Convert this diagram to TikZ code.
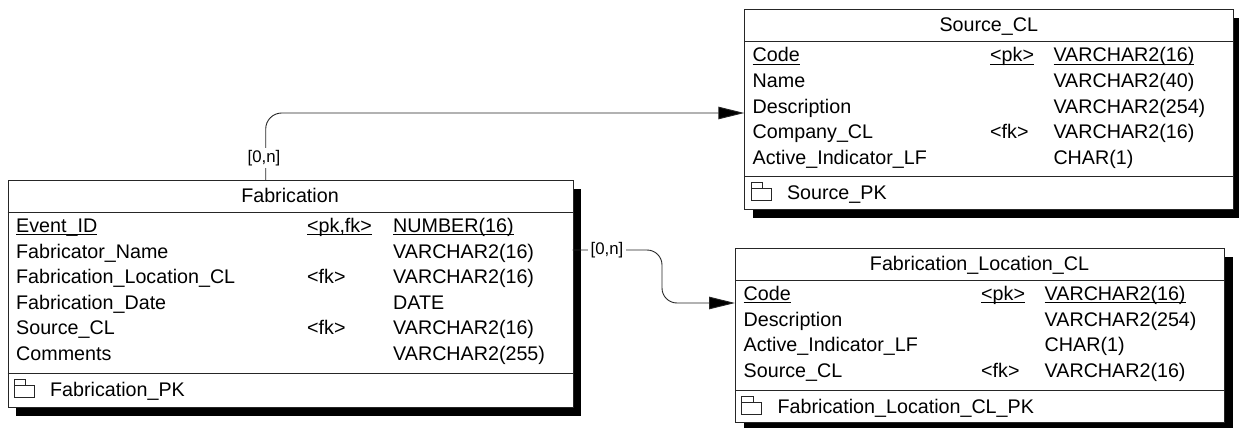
\documentclass[tikz,border=0pt]{standalone}
\usepackage{fontspec}
\setmainfont{Liberation Sans}
\usetikzlibrary{arrows.meta,shadows}
\newsavebox\ulbox
\newcommand\ulfield[1]{\sbox\ulbox{#1}\rlap{\rule[-2.8pt]{\wd\ulbox}{0.9pt}}\usebox\ulbox}
\newcommand\fieldrow[8]{%
  \node[txt] (#1-n) at (#3,#2) {#6};
  \node[txt] (#1-k) at (#4,#2) {#7};
  \node[txt] (#1-t) at (#5,#2) {#8};}
\newcommand\pkicon[2]{%
  \draw[pkiconst] (#1+6.7,-#2-12.3) rectangle (#1+26.7,-#2-24.7)
    (#1+6.7,-#2-12.3) -- (#1+6.7,-#2-6.3) -- (#1+18.3,-#2-6.3) -- (#1+18.3,-#2-12.3);}
\begin{document}
\begin{tikzpicture}[x=1pt,y=1pt,
  tbl/.style={draw=black!85, line width=0.9pt, fill=white, anchor=north west, inner sep=0pt,
    drop shadow={shadow xshift=8.5pt, shadow yshift=-8.5pt, fill=black, opacity=1}},
  txt/.style={anchor=base west, inner sep=0pt, font=\fontsize{19.7}{22}\selectfont},
  ttl/.style={anchor=base, inner sep=0pt, font=\fontsize{19.7}{22}\selectfont},
  card/.style={fill=white, inner sep=2.5pt, font=\fontsize{16.8}{19}\selectfont},
  rel/.style={draw=black!85, line width=0.9pt, -{Triangle[length=26pt,width=12.5pt,fill=black]}},
  sep/.style={draw=black!85, line width=0.9pt},
  pkiconst/.style={draw=black!85, line width=0.8pt}]
\useasboundingbox (0,0) rectangle (1239,-428);

% ---------------- Fabrication ----------------
\node[tbl, minimum width=565pt, minimum height=227pt] (fab) at (7.5,-180) {};
\draw[sep] (7.5,-212) -- (572.5,-212);
\draw[sep] (7.5,-373) -- (572.5,-373);
\node[ttl] (fab-title) at (290,-202) {Fabrication};
\fieldrow{f1}{-232.5}{16}{307}{393}{\ulfield{Event\_ID}}{\ulfield{<pk,fk>}}{\ulfield{NUMBER(16)}}
\fieldrow{f2}{-258}{16}{307}{393}{Fabricator\_Name}{}{VARCHAR2(16)}
\fieldrow{f3}{-283.5}{16}{307}{393}{Fabrication\_Location\_CL}{<fk>}{VARCHAR2(16)}
\fieldrow{f4}{-309}{16}{307}{393}{Fabrication\_Date}{}{DATE}
\fieldrow{f5}{-334.5}{16}{307}{393}{Source\_CL}{<fk>}{VARCHAR2(16)}
\fieldrow{f6}{-360}{16}{307}{393}{Comments}{}{VARCHAR2(255)}
\pkicon{7.5}{373}
\node[txt] (fab-pk) at (50,-396) {Fabrication\_PK};

% ---------------- Source_CL ----------------
\node[tbl, minimum width=489pt, minimum height=199.7pt] (src) at (744.3,-9.3) {};
\draw[sep] (744.3,-41.5) -- (1233.3,-41.5);
\draw[sep] (744.3,-176) -- (1233.3,-176);
\node[ttl] (src-title) at (988.8,-31.3) {Source\_CL};
\fieldrow{s1}{-62}{752.5}{990}{1053.3}{\ulfield{Code}}{\ulfield{<pk>}}{\ulfield{VARCHAR2(16)}}
\fieldrow{s2}{-87.5}{752.5}{990}{1053.3}{Name}{}{VARCHAR2(40)}
\fieldrow{s3}{-113}{752.5}{990}{1053.3}{Description}{}{VARCHAR2(254)}
\fieldrow{s4}{-138.5}{752.5}{990}{1053.3}{Company\_CL}{<fk>}{VARCHAR2(16)}
\fieldrow{s5}{-164}{752.5}{990}{1053.3}{Active\_Indicator\_LF}{}{CHAR(1)}
\pkicon{744.3}{176}
\node[txt] (src-pk) at (786.8,-199) {Source\_PK};

% ---------------- Fabrication_Location_CL ----------------
\node[tbl, minimum width=489pt, minimum height=174pt] (loc) at (735,-248) {};
\draw[sep] (735,-280) -- (1224,-280);
\draw[sep] (735,-390) -- (1224,-390);
\node[ttl] (loc-title) at (979.5,-270) {Fabrication\_Location\_CL};
\fieldrow{l1}{-300.5}{743.5}{981}{1044.5}{\ulfield{Code}}{\ulfield{<pk>}}{\ulfield{VARCHAR2(16)}}
\fieldrow{l2}{-326}{743.5}{981}{1044.5}{Description}{}{VARCHAR2(254)}
\fieldrow{l3}{-351.5}{743.5}{981}{1044.5}{Active\_Indicator\_LF}{}{CHAR(1)}
\fieldrow{l4}{-377}{743.5}{981}{1044.5}{Source\_CL}{<fk>}{VARCHAR2(16)}
\pkicon{735}{390}
\node[txt] (loc-pk) at (777.5,-413) {Fabrication\_Location\_CL\_PK};

% ---------------- Relationships ----------------
\coordinate (r1a) at (265.7,-180);
\coordinate (r1b) at (744.3,-113);
\draw[rel, rounded corners=16pt] (r1a) |- (r1b);
\node[card] (r1card) at (264,-158) {[0,n]};

\coordinate (r2a) at (572.5,-250);
\coordinate (r2m1) at (662,-250);
\coordinate (r2m2) at (662,-303);
\coordinate (r2b) at (735,-303);
\draw[rel, rounded corners=15pt] (r2a) -- (r2m1) -- (r2m2) -- (r2b);
\node[card] (r2card) at (607,-250) {[0,n]};
\end{tikzpicture}
\end{document}
